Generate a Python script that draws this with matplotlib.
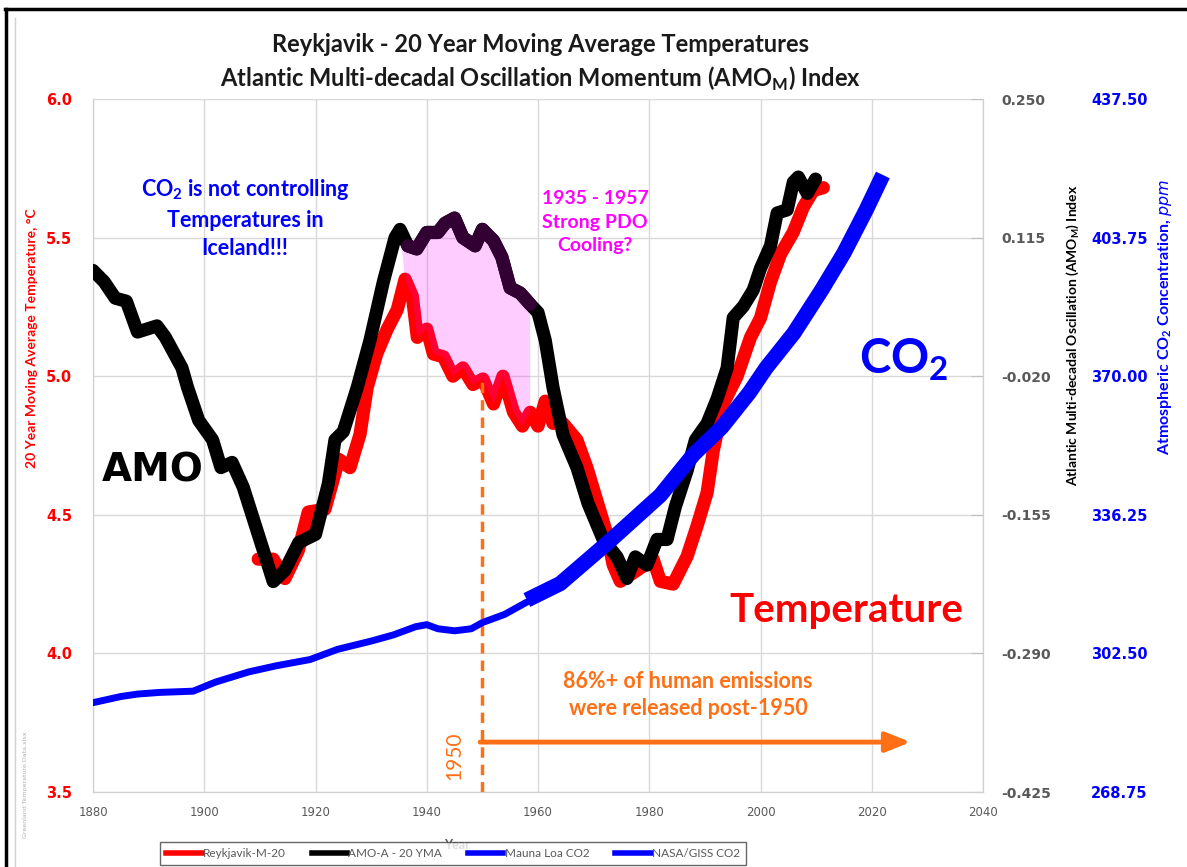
import numpy as np
import matplotlib
matplotlib.use("Agg")
import matplotlib.pyplot as plt
from matplotlib.lines import Line2D

# Reykjavik 20 yr moving average temps vs AMO and CO2

# Reykjavik-M-20, deg C
reyk_year = [1909.7, 1912.4, 1914.5, 1916.9, 1918.7, 1921.7, 1924.2, 1926.2, 1928.0, 1929.3,
             1931.0, 1932.9, 1934.7, 1936.1, 1937.4, 1938.3, 1940.0, 1941.2, 1943.0, 1944.7,
             1946.5, 1948.3, 1950.1, 1952.0, 1953.7, 1955.6, 1957.2, 1958.6, 1960.0, 1961.3,
             1962.7, 1964.5, 1967.0, 1968.8, 1970.6, 1972.4, 1973.5, 1974.8, 1977.8, 1980.7,
             1982.0, 1984.3, 1986.8, 1988.6, 1990.4, 1991.5, 1993.3, 1995.8, 1998.2, 2000.0,
             2001.8, 2003.6, 2005.9, 2007.7, 2009.5, 2011.3]
reyk_temp = [4.34, 4.34, 4.27, 4.37, 4.51, 4.52, 4.70, 4.67, 4.79, 4.96,
             5.08, 5.17, 5.24, 5.35, 5.29, 5.14, 5.17, 5.08, 5.07, 5.00,
             5.03, 4.97, 4.99, 4.90, 5.00, 4.87, 4.82, 4.87, 4.82, 4.91,
             4.83, 4.83, 4.77, 4.67, 4.55, 4.43, 4.32, 4.26, 4.30, 4.34,
             4.26, 4.25, 4.35, 4.46, 4.58, 4.73, 4.90, 5.00, 5.14, 5.21,
             5.34, 5.44, 5.52, 5.61, 5.67, 5.68]

# AMO-A - 20 YMA, index
amo_year = [1880.0, 1882.0, 1884.0, 1886.0, 1888.0, 1891.5, 1893.0, 1896.0, 1897.0, 1899.0,
            1901.5, 1903.0, 1905.0, 1907.0, 1909.7, 1912.4, 1914.5, 1917.0, 1920.0, 1922.3,
            1923.5, 1925.0, 1927.5, 1929.8, 1932.2, 1934.3, 1935.2, 1936.6, 1938.2, 1940.0,
            1942.0, 1943.3, 1945.0, 1946.5, 1948.7, 1950.0, 1952.0, 1953.5, 1955.0, 1956.8,
            1958.6, 1960.0, 1961.3, 1962.7, 1964.5, 1967.0, 1969.0, 1971.7, 1974.2, 1976.0,
            1977.5, 1979.6, 1981.4, 1983.2, 1984.7, 1986.8, 1988.3, 1990.4, 1992.2, 1994.0,
            1995.1, 1996.9, 1998.7, 2000.0, 2001.8, 2003.0, 2004.8, 2005.9, 2006.8, 2008.4,
            2009.9]
amo_val = [0.083, 0.072, 0.056, 0.053, 0.023, 0.029, 0.018, -0.012, -0.031, -0.063,
           -0.082, -0.109, -0.104, -0.128, -0.174, -0.220, -0.209, -0.182, -0.174, -0.125,
           -0.082, -0.074, -0.031, 0.015, 0.072, 0.115, 0.123, 0.107, 0.104, 0.120,
           0.120, 0.129, 0.134, 0.115, 0.107, 0.123, 0.112, 0.096, 0.066, 0.061,
           0.050, 0.042, 0.015, -0.031, -0.077, -0.109, -0.144, -0.179, -0.196, -0.217,
           -0.196, -0.204, -0.179, -0.179, -0.147, -0.112, -0.082, -0.066, -0.042, -0.012,
           0.037, 0.048, 0.064, 0.085, 0.107, 0.139, 0.142, 0.169, 0.174, 0.158,
           0.172]

# NASA/GISS CO2, ppm
giss_year = [1880, 1885, 1888, 1892, 1898, 1902, 1908, 1913, 1919, 1924,
             1930, 1934, 1938, 1940, 1942, 1945, 1948, 1950, 1954, 1958]
giss_co2 = [290.5, 292.0, 292.6, 293.0, 293.3, 295.5, 298.0, 299.5, 301.0, 303.5,
            305.5, 307.0, 309.0, 309.5, 308.5, 308.0, 308.5, 310.0, 312.0, 315.0]

# Mauna Loa CO2, ppm
ml_year = [1958, 1964, 1973, 1982, 1988, 1993, 1998, 2001, 2006, 2011, 2015, 2019, 2022]
ml_co2 = [315.5, 319.5, 330.0, 341.0, 351.0, 357.5, 366.0, 372.0, 380.5, 391.0, 400.0, 410.5, 419.0]

temp_ticks = [3.5, 4.0, 4.5, 5.0, 5.5, 6.0]
amo_ticks = [-0.425, -0.290, -0.155, -0.020, 0.115, 0.250]
co2_ticks = [268.75, 302.50, 336.25, 370.00, 403.75, 437.50]
year_ticks = list(range(1880, 2041, 20))

pdo_start, pdo_end = 1935.2, 1958.6

RED = "#FF0000"
BLUE = "#0000FF"
MAG = "#FF00FF"
ORANGE = "#FF7016"
GREY = "#595959"
CAL = ["Lato", "DejaVu Sans"]

W, H = 1187, 867
fig = plt.figure(figsize=(W / 100, H / 100), dpi=100)
rect = [93 / W, 1 - 792 / H, 890 / W, 693 / H]
ax = fig.add_axes(rect)
ax_amo = ax.twinx()
ax_co2 = ax.twinx()

ax.set_xlim(1880, 2040)
ax.set_ylim(3.5, 6.0)
ax_amo.set_ylim(-0.425, 0.25)
ax_co2.set_ylim(268.75, 437.5)

# grid + spines
ax.set_xticks(year_ticks)
ax.set_yticks(temp_ticks)
ax.grid(True, color="#d9d9d9", lw=1.0)
ax.set_axisbelow(True)
for a in (ax, ax_amo, ax_co2):
    for s in a.spines.values():
        s.set_color("#d0d0d0")
    a.spines["top"].set_visible(False)
ax_co2.spines["right"].set_visible(False)
ax_co2.spines["left"].set_visible(False)
ax_co2.spines["bottom"].set_visible(False)

ax.tick_params(axis="y", length=0, pad=15, labelcolor=RED, labelsize=10.5)
for t in ax.get_yticklabels():
    t.set_fontweight("bold")
ax.yaxis.set_major_formatter(plt.FormatStrFormatter("%.1f"))
ax.tick_params(axis="x", length=0, pad=10, labelcolor=GREY, labelsize=8.5)

ax_amo.set_yticks(amo_ticks)
ax_amo.yaxis.set_major_formatter(plt.FormatStrFormatter("%.3f"))
ax_amo.tick_params(axis="y", direction="in", length=9, color="#c0c0c0", pad=13,
                   labelcolor=GREY, labelsize=10)
for t in ax_amo.get_yticklabels():
    t.set_fontweight("bold")

ax_co2.set_yticks(co2_ticks)
ax_co2.yaxis.set_major_formatter(plt.FormatStrFormatter("%.2f"))
ax_co2.tick_params(axis="y", length=0, pad=78, labelcolor=BLUE, labelsize=10.5)
for t in ax_co2.get_yticklabels():
    t.set_fontweight("bold")

# axis labels
ax.set_ylabel("20 Year Moving Average Temperature, °C", color=RED, fontsize=10,
              fontweight="bold", family=CAL)
ax.yaxis.set_label_coords((32 - 93) / 890, (792 - 338) / 693)
ax.yaxis.label.set_va("center")
ax_amo.set_ylabel("Atlantic Multi-decadal Oscillation (AMO$_\\mathregular{M}$) Index",
                  color="black", fontsize=10, fontweight="bold", family=CAL)
ax_amo.yaxis.set_label_coords((1073 - 93) / 890, (792 - 335) / 693)
ax_amo.yaxis.label.set_va("center")
ax_co2.set_ylabel("Atmospheric CO$_\\mathregular{2}$ Concentration, $\\it{ppm}$",
                  color=BLUE, fontsize=11.5, fontweight="bold", family=CAL)
ax_co2.yaxis.set_label_coords((1165 - 93) / 890, (792 - 317) / 693)
ax_co2.yaxis.label.set_va("center")
ax.set_xlabel("Year", color=GREY, fontsize=9, fontweight="bold", family=CAL)
ax.xaxis.set_label_coords((457 - 93) / 890, (792 - 845) / 693)
ax.xaxis.label.set_va("center")

# series
ax.plot(reyk_year, reyk_temp, color=RED, lw=9.5, solid_capstyle="round",
        solid_joinstyle="round")

ay = np.array(amo_year)
av = np.array(amo_val)
ry = np.array(reyk_year)
rt = np.array(reyk_temp)

ax_amo.plot(ay, av, color="black", lw=9.5, solid_capstyle="round", solid_joinstyle="round",
            zorder=3)
# shaded PDO cooling area between the two curves
bmask = (ay >= pdo_start) & (ay <= pdo_end)
rmask = (ry >= 1936.0) & (ry <= pdo_end)
red_disp = ax.transData.transform(np.column_stack([ry[rmask], rt[rmask]]))
red_amo = ax_amo.transData.inverted().transform(red_disp)
poly = np.vstack([np.column_stack([ay[bmask], av[bmask]]), red_amo[::-1]])
ax_amo.fill(poly[:, 0], poly[:, 1], color=MAG, alpha=0.2, lw=0, zorder=2)
ax_amo.plot(ay[bmask][1:], av[bmask][1:], color="#330033", lw=9.5,
            solid_capstyle="round", solid_joinstyle="round", zorder=4)

ax_co2.plot(giss_year, giss_co2, color=BLUE, lw=5, solid_capstyle="round")
ax_co2.plot(ml_year, ml_co2, color=BLUE, lw=11, solid_capstyle="butt")

# annotations
ax.text(1907.3, 5.57, "CO$_\\mathregular{2}$ is not controlling\nTemperatures in\nIceland!!!",
        color=BLUE, fontsize=15.5, fontweight="bold", family=CAL, ha="center", va="center",
        linespacing=1.45)
ax.text(1970.3, 5.556, "1935 - 1957\nStrong PDO\nCooling?", color=MAG, fontsize=14,
        fontweight="bold", family=CAL, ha="center", va="center", linespacing=1.45)
ax.text(1890.8, 4.66, "AMO", color="black", fontsize=28, fontweight="bold",
        ha="center", va="center")
ax.text(2025.7, 5.06, "CO$_\\mathregular{2}$", color=BLUE, fontsize=34, fontweight="bold",
        family=CAL, ha="center", va="center")
ax.text(2015.4, 4.155, "Temperature", color=RED, fontsize=29, fontweight="bold", family=CAL,
        ha="center", va="center")
ax.text(1987.0, 3.85, "86%+ of human emissions\nwere released post-1950", color=ORANGE,
        fontsize=15.5, fontweight="bold", family=CAL, ha="center", va="center",
        linespacing=1.3)
ax.text(1944.9, 3.63, "1950", color=ORANGE, fontsize=15, family=CAL, rotation=90,
        ha="center", va="center")
ax.plot([1950, 1950], [3.5, 4.98], color=ORANGE, lw=2.5, ls=(0, (3, 2)), zorder=5)
ax.annotate("", xy=(2027, 3.68), xytext=(1949.6, 3.68),
            arrowprops=dict(arrowstyle="-|>,head_length=1.5,head_width=0.6",
                            color=ORANGE, lw=3.5, shrinkA=0, shrinkB=0))

# titles
fig.text(540 / W, 1 - 45 / H, "Reykjavik - 20 Year Moving Average Temperatures",
         fontsize=17, fontweight="bold", family=CAL, color="#1a1a1a",
         ha="center", va="center")
fig.text(540 / W, 1 - 79 / H,
         "Atlantic Multi-decadal Oscillation Momentum (AMO$_\\mathregular{M}$) Index",
         fontsize=17, fontweight="bold", family=CAL, color="#1a1a1a",
         ha="center", va="center")
fig.text(26 / W, 1 - 785 / H, "Greenland Temperature Data.xlsx", fontsize=4.5,
         color="#b0b0b0", rotation=90, ha="center", va="center")

# legend
handles = [Line2D([], [], color=RED, lw=4), Line2D([], [], color="black", lw=4),
           Line2D([], [], color=BLUE, lw=4), Line2D([], [], color=BLUE, lw=4)]
labels = ["Reykjavik-M-20", "AMO-A - 20 YMA", "Mauna Loa CO2", "NASA/GISS CO2"]
leg = fig.legend(handles, labels, loc="upper center", bbox_to_anchor=(453 / W, 1 - 836 / H),
                 ncol=4, frameon=True, fancybox=False, edgecolor="#404040",
                 handlelength=3.0, handletextpad=0.1, columnspacing=2.2,
                 borderpad=0.5, prop={"family": CAL, "size": 8.5})
leg.get_frame().set_linewidth(1.0)
for t in leg.get_texts():
    t.set_color(GREY)

# outer border of the screenshot
fig.add_artist(Line2D([5 / W, 1], [1 - 9 / H] * 2, color="black", lw=2.5,
                      transform=fig.transFigure))
fig.add_artist(Line2D([6 / W] * 2, [0, 1 - 9 / H], color="black", lw=2.5,
                      transform=fig.transFigure))
fig.add_artist(Line2D([15 / W] * 2, [0, 1 - 18 / H], color="#d0d0d0", lw=1,
                      transform=fig.transFigure))

fig.savefig("out.png", dpi=100)
